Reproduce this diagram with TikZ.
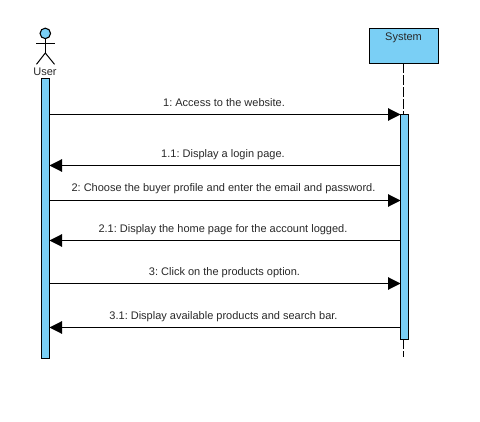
\documentclass[tikz,border=0pt]{standalone}
\usepackage{fontspec}
\setmainfont{Liberation Sans}
\usetikzlibrary{arrows.meta}
\definecolor{fillblue}{RGB}{122,207,245}
\definecolor{txt}{RGB}{40,40,40}
\tikzset{
  x=1pt,y=-1pt,
  lbl/.style={font=\fontsize{11}{12}\selectfont\frenchspacing,text=txt,inner sep=0pt,anchor=base},
  bar/.style={draw=black,fill=fillblue,line width=1.1pt},
  msg/.style={draw=black,line width=1.1pt,-{Triangle[length=12.5pt,width=12.5pt,fill=black]}},
  lifeline/.style={draw=black,line width=1.1pt,dash pattern=on 9.5pt off 2.5pt},
  stick/.style={draw=black,line width=1pt}
}
\begin{document}
\begin{tikzpicture}
\useasboundingbox (0,0) rectangle (480,422);
% actor
\node[bar,circle,minimum size=10.5pt,inner sep=0pt] (head) at (45.3,33.4) {};
\coordinate (hip) at (45.3,53);
\coordinate (armL) at (36,44);
\coordinate (armR) at (54.7,44);
\coordinate (legL) at (36.5,64.3);
\coordinate (legR) at (54.5,64.3);
\draw[stick] (head.south) -- (hip);
\draw[stick] (armL) -- (armR);
\draw[stick] (legL) -- (hip) -- (legR);
\node[lbl] (user) at (45,75.5) {User};
% lifeline, system box
\coordinate (sysend) at (403.5,357.5);
\coordinate (sysstart) at (403.5,63.5);
\node[bar,minimum width=69pt,minimum height=35pt,inner sep=0pt] (sys) at (404,46) {};
\draw[lifeline] (sysstart) -- (sysend);
\node[lbl] (systxt) at (403.5,40.5) {System};
% activation bars
\node[bar,minimum width=8pt,minimum height=280pt,inner sep=0pt] (ua) at (45.5,218.5) {};
\node[bar,minimum width=8pt,minimum height=225pt,inner sep=0pt] (sa) at (404.5,227) {};
% message end points
\foreach \n/\y in {a/114.5,b/165.5,c/200.5,d/240.5,e/283.5,f/327.5}{
  \coordinate (u\n) at (49.5,\y);
  \coordinate (s\n) at (400.5,\y);
}
\draw[msg] (ua) -- (sa);
\draw[msg] (sb) -- (ub);
\draw[msg] (uc) -- (sc);
\draw[msg] (sd) -- (ud);
\draw[msg] (ue) -- (se);
\draw[msg] (sf) -- (uf);
% labels
\node[lbl] (la) at (224,106.5) {1: Access to the website.};
\node[lbl] (lb) at (223,157.5) {1.1: Display a login page.};
\node[lbl] (lc) at (223.5,191.5) {2: Choose the buyer profile and enter the email and password.};
\node[lbl] (ld) at (223,232.5) {2.1: Display the home page for the account logged.};
\node[lbl] (le) at (224.5,275.5) {3: Click on the products option.};
\node[lbl] (lf) at (223.5,319.5) {3.1: Display available products and search bar.};
\end{tikzpicture}
\end{document}
